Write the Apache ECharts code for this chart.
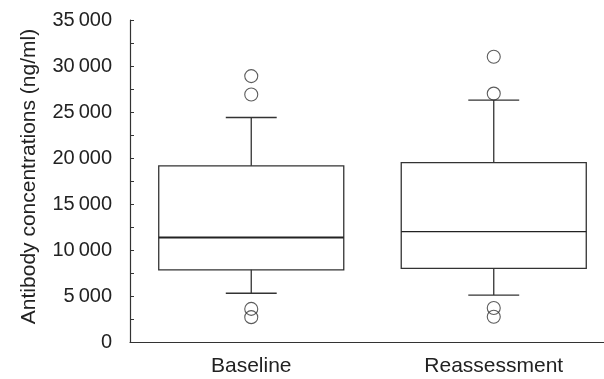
<!DOCTYPE html>
<html><head><meta charset="utf-8">
<script src="https://cdn.jsdelivr.net/npm/echarts@6/dist/echarts.min.js"></script>
<style>html,body{margin:0;padding:0;background:#fff}#c{width:604px;height:379px}</style>
</head><body><div id="c"></div>
<script>
const categories = ['Baseline', 'Reassessment'];
const whiskerLow = [5300, 5100];
const q1 = [7850, 8000];
const median = [11350, 12000];
const q3 = [19150, 19500];
const whiskerHigh = [24400, 26300];
const outliersBaseline = [28900, 26900, 3600, 2700];
const outliersReassessment = [31000, 27000, 3700, 2750];
const yTicks = [0, 5000, 10000, 15000, 20000, 25000, 30000, 35000];

const boxData = categories.map((c, i) => [i, whiskerLow[i], q1[i], median[i], q3[i], whiskerHigh[i]]);
const outlierData = outliersBaseline.map(v => [0, v]).concat(outliersReassessment.map(v => [1, v]));
const medianWidths = [2, 1.4];
const stroke = '#333';
const fmt = v => {
  if (!yTicks.includes(v)) return '';
  if (v === 0) return '0';
  const s = String(v);
  return s.slice(0, s.length - 3) + '\u2009' + s.slice(-3);
};

const chart = echarts.init(document.getElementById('c'));
chart.setOption({
  animation: false,
  grid: { left: 130, top: 20, width: 485, height: 322, outerBoundsMode: 'none', containLabel: false },
  xAxis: {
    type: 'category', data: categories,
    axisLine: { lineStyle: { color: stroke, width: 1.2 } },
    axisTick: { inside: true, alignWithLabel: true, length: 3, lineStyle: { color: stroke } },
    axisLabel: { color: '#222', fontSize: 21, fontFamily: 'Liberation Sans', margin: 14 }
  },
  yAxis: {
    type: 'value', min: 0, max: 35000, interval: 5000,
    name: 'Antibody concentrations (ng/ml)', nameLocation: 'middle', nameGap: 90,
    nameTextStyle: { color: '#222', fontSize: 21, fontFamily: 'Liberation Sans', padding: [0, 0, 0, 9] },
    axisLine: { show: true, lineStyle: { color: stroke, width: 1.2 } },
    axisTick: { show: true, inside: true, length: 4, lineStyle: { color: stroke } },
    minorTick: { show: true, splitNumber: 2, length: 4, lineStyle: { color: stroke } },
    splitLine: { show: false },
    axisLabel: { color: '#222', fontSize: 20, fontFamily: 'Liberation Sans', margin: 18, formatter: fmt }
  },
  series: [
    {
      type: 'custom',
      data: boxData,
      renderItem: function (params, api) {
        const x = api.value(0);
        const band = api.size([1, 0])[0];
        const bw = band * 0.763, cw = band * 0.21;
        const pLow = api.coord([x, api.value(1)]);
        const pQ1 = api.coord([x, api.value(2)]);
        const pMed = api.coord([x, api.value(3)]);
        const pQ3 = api.coord([x, api.value(4)]);
        const pHigh = api.coord([x, api.value(5)]);
        const cx = pQ1[0];
        const ls = { stroke: stroke, lineWidth: 1.3, fill: null };
        return {
          type: 'group',
          children: [
            { type: 'rect', shape: { x: cx - bw / 2, y: pQ3[1], width: bw, height: pQ1[1] - pQ3[1] }, style: { stroke: stroke, lineWidth: 1.3, fill: 'none' } },
            { type: 'line', shape: { x1: cx - bw / 2, y1: pMed[1], x2: cx + bw / 2, y2: pMed[1] }, style: { stroke: '#222', lineWidth: medianWidths[params.dataIndex] } },
            { type: 'line', shape: { x1: cx, y1: pQ3[1], x2: cx, y2: pHigh[1] }, style: ls },
            { type: 'line', shape: { x1: cx, y1: pQ1[1], x2: cx, y2: pLow[1] }, style: ls },
            { type: 'line', shape: { x1: cx - cw / 2, y1: pHigh[1], x2: cx + cw / 2, y2: pHigh[1] }, style: ls },
            { type: 'line', shape: { x1: cx - cw / 2, y1: pLow[1], x2: cx + cw / 2, y2: pLow[1] }, style: ls }
          ]
        };
      }
    },
    {
      type: 'scatter',
      data: outlierData,
      symbol: 'circle', symbolSize: 13,
      itemStyle: { color: 'rgba(0,0,0,0)', borderColor: stroke, borderWidth: 1.1 }
    }
  ]
});
</script></body></html>
